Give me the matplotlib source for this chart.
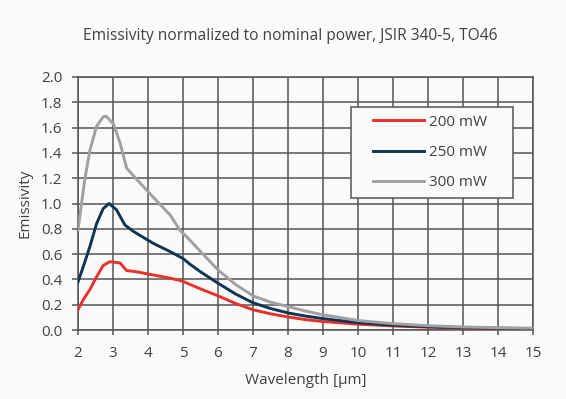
import matplotlib
matplotlib.use("Agg")
import matplotlib.pyplot as plt
from matplotlib.legend_handler import HandlerLine2D
from matplotlib.lines import Line2D

# Data
x_200 = [2.0, 2.15, 2.34, 2.53, 2.72, 2.91, 3.2, 3.39, 3.68, 4.15, 4.63, 5.0, 5.2, 5.5, 6.0, 6.5, 7.0, 7.5, 8.0, 8.5, 9.0, 10.0, 11.0, 12.0, 13.0, 14.0, 15.0]
y_200 = [0.16, 0.24, 0.32, 0.42, 0.51, 0.54, 0.53, 0.47, 0.46, 0.435, 0.41, 0.385, 0.36, 0.325, 0.27, 0.21, 0.16, 0.128, 0.103, 0.082, 0.067, 0.046, 0.032, 0.022, 0.016, 0.012, 0.01]

x_250 = [2.0, 2.15, 2.34, 2.53, 2.72, 2.89, 3.1, 3.34, 3.58, 4.15, 4.63, 5.0, 5.2, 5.5, 6.0, 6.5, 7.0, 7.5, 8.0, 8.5, 9.0, 10.0, 11.0, 12.0, 13.0, 14.0, 15.0]
y_250 = [0.38, 0.50, 0.66, 0.84, 0.96, 1.0, 0.95, 0.83, 0.78, 0.685, 0.62, 0.565, 0.52, 0.46, 0.37, 0.285, 0.215, 0.17, 0.135, 0.11, 0.09, 0.058, 0.038, 0.026, 0.019, 0.014, 0.011]

x_300 = [2.0, 2.1, 2.2, 2.34, 2.53, 2.72, 2.8, 3.01, 3.2, 3.39, 3.68, 4.15, 4.63, 4.91, 5.2, 5.5, 6.0, 6.5, 7.0, 7.5, 8.0, 8.5, 9.0, 10.0, 11.0, 12.0, 13.0, 14.0, 15.0]
y_300 = [0.79, 1.0, 1.2, 1.42, 1.61, 1.685, 1.69, 1.63, 1.48, 1.28, 1.19, 1.05, 0.91, 0.79, 0.71, 0.62, 0.475, 0.36, 0.27, 0.22, 0.185, 0.15, 0.12, 0.075, 0.05, 0.034, 0.024, 0.018, 0.014]

labels = ["200 mW", "250 mW", "300 mW"]
colors = ["#e8312a", "#0e3554", "#a0a0a0"]
xticks = list(range(2, 16))
yticks = [0.0, 0.2, 0.4, 0.6, 0.8, 1.0, 1.2, 1.4, 1.6, 1.8, 2.0]

plt.rcParams['font.family'] = ['Open Sans', 'DejaVu Sans']
txt = "#404040"
gridc = "#555555"
bg = "#fafafa"

fig = plt.figure(figsize=(5.66, 3.99), dpi=100, facecolor=bg)
ax = fig.add_axes([78/566, 69/399, 455/566, 253/399])
ax.set_facecolor(bg)

for xs, ys, c, lab in zip([x_200, x_250, x_300], [y_200, y_250, y_300], colors, labels):
    ax.plot(xs, ys, color=c, lw=2.1, label=lab, zorder=3)

ax.set_xlim(2, 15)
ax.set_ylim(0, 2.0)
ax.set_xticks(xticks)
ax.set_yticks(yticks)
ax.set_yticklabels([f"{v:.1f}" for v in yticks])
ax.grid(True, color=gridc, lw=1.1, zorder=0)
for s in ax.spines.values():
    s.set_color(gridc)
    s.set_linewidth(1.1)
ax.tick_params(axis='both', colors=gridc, labelcolor=txt, labelsize=11, width=1.1, direction='out')
ax.tick_params(axis='x', length=3.6, pad=8.2)
ax.tick_params(axis='y', length=4.3, pad=7)

ax.set_xlabel("Wavelength [µm]", fontsize=11, color=txt, labelpad=8)
ax.set_ylabel("Emissivity", fontsize=11, color=txt, labelpad=6)
fig.text(290/566, 1 - 36/399, "Emissivity normalized to nominal power, JSIR 340-5, TO46",
         ha='center', va='center', fontsize=11.2, color=txt)

leg = ax.legend(loc='upper left', bbox_to_anchor=(273/455, 223/253, 162/455, 0.0), mode='expand',
                frameon=True, fancybox=False, fontsize=11, handlelength=4.27, labelspacing=1.01,
                borderpad=0.5, handletextpad=0.33, borderaxespad=0,
                handler_map={Line2D: HandlerLine2D(xpad=0.94)})
leg.get_frame().set_edgecolor(gridc)
leg.get_frame().set_linewidth(1.1)
leg.get_frame().set_facecolor(bg)
leg.get_frame().set_alpha(1)
for t in leg.get_texts():
    t.set_color(txt)

fig.savefig("out.png", dpi=100, facecolor=bg)
